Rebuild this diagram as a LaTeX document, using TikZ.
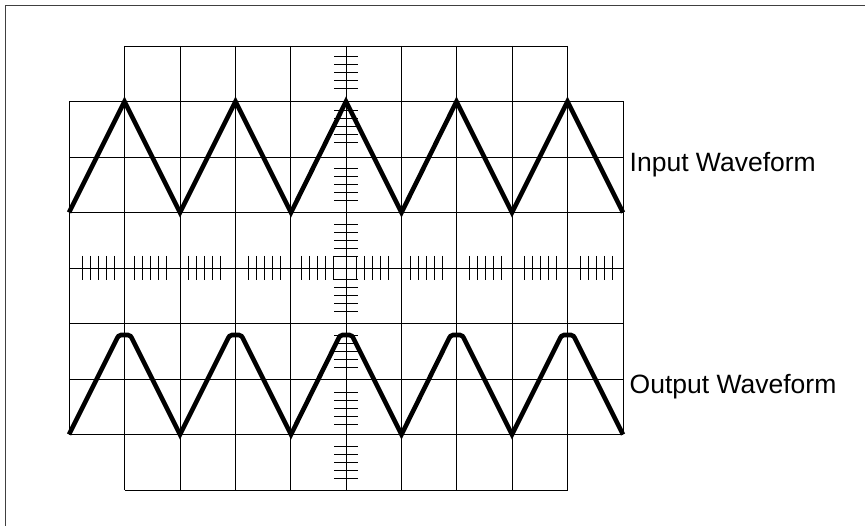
\documentclass[tikz,border=0pt]{standalone}
\usepackage{fontspec}
\setmainfont{Liberation Sans}
\begin{document}
\begin{tikzpicture}[x=1pt,y=-1pt,
  gridline/.style={line width=0.9pt,black},
  tickline/.style={line width=0.9pt,black},
  wave/.style={line width=4.6pt,black,line join=miter},
  border/.style={line width=1pt,black!75},
  wlabel/.style={font=\fontsize{26.5}{30}\selectfont,anchor=base west,inner sep=0pt}]
\useasboundingbox (0,0) rectangle (865,526);
\draw[border] (865,6) -- (5,6) -- (5,526);
% grid: horizontal lines
\foreach \y in {46,490} \draw[gridline] (124.5,\y) -- (567.5,\y);
\foreach \y in {101.5,157,212.5,268,323.5,379,434.5} \draw[gridline] (69,\y) -- (623,\y);
% grid: vertical lines
\foreach \x in {69,623} \draw[gridline] (\x,101.5) -- (\x,434.5);
\foreach \x in {124.5,180,235.5,290.5,346,401.5,456.5,512,567.5} \draw[gridline] (\x,46) -- (\x,490);
% ticks on the horizontal axis
\foreach \s in {82.7,134,188,248,301.3,356,410.7,469.3,524,580}
  \foreach \k in {0,...,4}
    \draw[tickline] (\s+8*\k,256) -- (\s+8*\k,280);
% ticks on the vertical axis
\foreach \s in {56.7,110.7,168.75,224.7,279.3,335.25,392.7,446.7}
  \foreach \k in {0,...,4}
    \draw[tickline] (334,\s+8*\k) -- (358,\s+8*\k);
% input waveform
\draw[wave] (69,212.5) \foreach \p in {124.5,235.5,346,456.5,567.5} { -- (\p,101.5) -- (\p+55.5,212.5) };
% output waveform (clipped peaks)
\draw[wave] (69,434.5) \foreach \p in {124.5,235.5,346,456.5,567.5} {
  -- (\p-9,341.5) .. controls (\p-6.5,336) and (\p-5.5,335) .. (\p-3.5,335)
  -- (\p+3.5,335) .. controls (\p+5.5,335) and (\p+6.5,336) .. (\p+9,341.5)
  -- (\p+55.5,434.5) };
% labels
\node[wlabel] (inlabel) at (629.5,171.7) {Input Waveform};
\node[wlabel] (outlabel) at (629.5,393.3) {Output Waveform};
\end{tikzpicture}
\end{document}
